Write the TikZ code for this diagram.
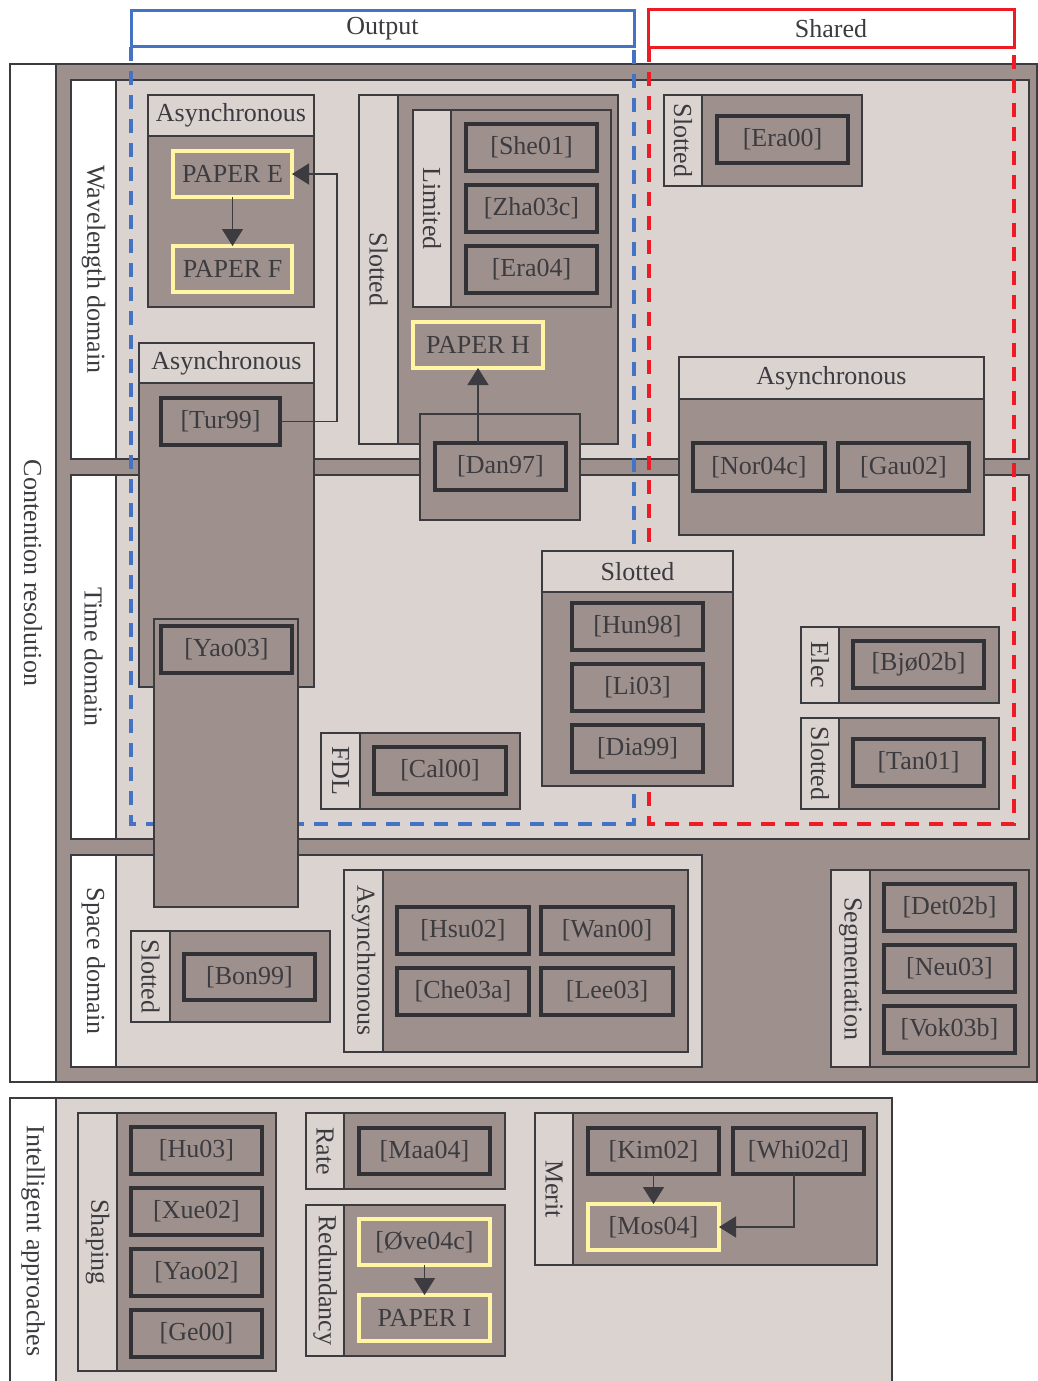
\documentclass[tikz,border=0pt]{standalone}
\usepackage{fontspec}
\setmainfont{Liberation Serif}
\usetikzlibrary{arrows.meta}

\definecolor{darkfill}{RGB}{158,145,141}
\definecolor{lightfill}{RGB}{219,211,208}
\definecolor{inkc}{RGB}{60,59,64}
\definecolor{refedge}{RGB}{50,50,54}
\definecolor{paperyellow}{RGB}{255,245,165}
\definecolor{outblue}{RGB}{68,114,196}
\definecolor{sharedred}{RGB}{237,28,36}

\tikzset{
  every node/.style={font=\fontsize{26}{30}\selectfont, text=inkc},
  frame/.style={draw=inkc, line width=1.5pt, inner sep=0pt, outer sep=0pt},
  whitecol/.style={frame, fill=white},
  lightbox/.style={frame, fill=lightfill},
  darkbox/.style={frame, fill=darkfill},
  refbox/.style={draw=refedge, line width=4pt, fill=darkfill, inner sep=0pt, outer sep=0pt},
  paperbox/.style={draw=paperyellow, line width=3.5pt, fill=darkfill, inner sep=0pt, outer sep=0pt},
  zone/.style={inner sep=0pt, outer sep=0pt},
  outline/.style={line width=3.5pt, dash pattern=on 14pt off 10pt},
  outhead/.style={draw=outblue, line width=3pt, fill=white, inner sep=0pt, outer sep=0pt},
  sharedhead/.style={draw=sharedred, line width=3pt, fill=white, inner sep=0pt, outer sep=0pt},
  link/.style={draw=inkc, line width=1.5pt, -{Triangle[length=17pt,width=21pt]}},
}

% \rbox{style}{name}{x1}{y1}{x2}{y2}{text}: box given by its corners
\newcommand\rbox[7]{%
  \pgfmathsetmacro\bxw{#5-#3}%
  \pgfmathsetmacro\bxh{#6-#4}%
  \node[#1, anchor=north west, minimum width=\bxw pt, minimum height=\bxh pt] (#2) at (#3,#4) {#7};}
\newcommand\vtext[1]{\rotatebox{-90}{#1}}

\begin{document}
\begin{tikzpicture}[x=1pt, y=-1pt]
\useasboundingbox (0,0) rectangle (1038,1381);

% contention resolution frame
\rbox{whitecol}{crlab}{10}{64}{56}{1082}{\vtext{Contention resolution}}
\rbox{darkbox}{crbody}{56}{64}{1037}{1082}{}

% domains
\rbox{whitecol}{wdlab}{71}{80}{116}{459}{\vtext{Wavelength domain}}
\rbox{lightbox}{wdbody}{116}{80}{1029}{459}{}
\rbox{whitecol}{tdlab}{71}{475}{116}{839}{\vtext{Time domain}}
\rbox{lightbox}{tdbody}{116}{475}{1029}{839}{}
\rbox{whitecol}{sdlab}{71}{855}{116}{1067}{\vtext{Space domain}}
\rbox{lightbox}{sdbody}{116}{855}{702}{1067}{}

% output / shared regions (open at the top, closed by the headings)
\rbox{zone}{outarea}{131}{47}{634}{824}{}
\rbox{zone}{sharedarea}{649}{48}{1014}{824}{}
\draw[outline, outblue] (outarea.north west) -- (outarea.south west) -- (outarea.south east) -- (outarea.north east);
\draw[outline, sharedred] (sharedarea.north west) -- (sharedarea.south west) -- (sharedarea.south east) -- (sharedarea.north east);

% wavelength domain: asynchronous (top)
\rbox{lightbox}{wahead}{148}{95}{314}{136}{Asynchronous}
\rbox{darkbox}{wabody}{148}{136}{314}{307}{}
\rbox{paperbox}{paperE}{173}{151}{292}{197}{PAPER E}
\rbox{paperbox}{paperF}{173}{246}{292}{292}{PAPER F}

% wavelength domain: slotted with limited
\rbox{lightbox}{wslab}{359}{95}{398}{444}{\vtext{Slotted}}
\rbox{darkbox}{wsbody}{398}{95}{618}{444}{}
\rbox{lightbox}{limlab}{413}{110}{451}{307}{\vtext{Limited}}
\rbox{darkbox}{limbody}{451}{110}{611}{307}{}
\rbox{refbox}{she}{466}{124}{597}{171}{[She01]}
\rbox{refbox}{zha}{466}{185}{597}{232}{[Zha03c]}
\rbox{refbox}{erafour}{466}{246}{597}{293}{[Era04]}
\rbox{paperbox}{paperH}{413}{322}{543}{368}{PAPER H}

% asynchronous spanning wavelength and time
\rbox{lightbox}{tahead}{139}{343}{314}{383}{Asynchronous}
\rbox{darkbox}{tabody}{139}{383}{314}{687}{}
\rbox{refbox}{tur}{161}{398}{280}{445}{[Tur99]}
\rbox{darkbox}{yaobody}{154}{619}{298}{907}{}
\rbox{refbox}{yaothree}{161}{626}{292}{673}{[Yao03]}

% Dan97 spanning wavelength and time
\rbox{darkbox}{danbody}{420}{414}{580}{520}{}
\rbox{refbox}{dan}{435}{443}{566}{490}{[Dan97]}

% shared wavelength: slotted
\rbox{lightbox}{seralab}{664}{95}{702}{186}{\vtext{Slotted}}
\rbox{darkbox}{serabody}{702}{95}{862}{186}{}
\rbox{refbox}{erazero}{717}{116}{848}{163}{[Era00]}

% shared asynchronous spanning wavelength and time
\rbox{lightbox}{rahead}{679}{357}{984}{399}{Asynchronous}
\rbox{darkbox}{rabody}{679}{399}{984}{535}{}
\rbox{refbox}{nor}{693}{443}{825}{491}{[Nor04c]}
\rbox{refbox}{gau}{838}{443}{969}{491}{[Gau02]}

% time domain: slotted
\rbox{lightbox}{tshead}{542}{551}{733}{592}{Slotted}
\rbox{darkbox}{tsbody}{542}{592}{733}{786}{}
\rbox{refbox}{hun}{572}{603}{703}{650}{[Hun98]}
\rbox{refbox}{li}{572}{664}{703}{711}{[Li03]}
\rbox{refbox}{dia}{572}{725}{703}{772}{[Dia99]}

% time domain: elec / slotted
\rbox{lightbox}{eleclab}{801}{627}{839}{703}{\vtext{Elec}}
\rbox{darkbox}{elecbody}{839}{627}{999}{703}{}
\rbox{refbox}{bjo}{853}{641}{984}{688}{[Bjø02b]}
\rbox{lightbox}{tslab}{801}{718}{839}{809}{\vtext{Slotted}}
\rbox{darkbox}{tsrbody}{839}{718}{999}{809}{}
\rbox{refbox}{tan}{853}{739}{984}{786}{[Tan01]}

% time domain: FDL
\rbox{lightbox}{fdllab}{321}{733}{360}{809}{\vtext{FDL}}
\rbox{darkbox}{fdlbody}{360}{733}{520}{809}{}
\rbox{refbox}{cal}{374}{747}{506}{794}{[Cal00]}

% space domain
\rbox{lightbox}{sslab}{131}{931}{170}{1022}{\vtext{Slotted}}
\rbox{darkbox}{ssbody}{170}{931}{330}{1022}{}
\rbox{refbox}{bon}{184}{954}{315}{1000}{[Bon99]}
\rbox{lightbox}{salab}{344}{870}{383}{1052}{\vtext{Asynchronous}}
\rbox{darkbox}{sabody}{383}{870}{688}{1052}{}
\rbox{refbox}{hsu}{397}{907}{529}{954}{[Hsu02]}
\rbox{refbox}{wan}{541}{907}{673}{954}{[Wan00]}
\rbox{refbox}{che}{397}{968}{529}{1015}{[Che03a]}
\rbox{refbox}{lee}{541}{968}{673}{1015}{[Lee03]}
\rbox{lightbox}{seglab}{831}{870}{870}{1067}{\vtext{Segmentation}}
\rbox{darkbox}{segbody}{870}{870}{1029}{1067}{}
\rbox{refbox}{det}{884}{884}{1015}{931}{[Det02b]}
\rbox{refbox}{neu}{884}{945}{1015}{992}{[Neu03]}
\rbox{refbox}{vok}{884}{1006}{1015}{1053}{[Vok03b]}

% intelligent approaches
\rbox{whitecol}{ialab}{10}{1098}{56}{1384}{\vtext{Intelligent approaches}}
\rbox{lightbox}{iabody}{56}{1098}{892}{1384}{}
\rbox{lightbox}{shlab}{78}{1113}{117}{1371}{\vtext{Shaping}}
\rbox{darkbox}{shbody}{117}{1113}{276}{1371}{}
\rbox{refbox}{hu}{131}{1127}{262}{1174}{[Hu03]}
\rbox{refbox}{xue}{131}{1188}{262}{1235}{[Xue02]}
\rbox{refbox}{yaotwo}{131}{1249}{262}{1296}{[Yao02]}
\rbox{refbox}{ge}{131}{1310}{262}{1357}{[Ge00]}
\rbox{lightbox}{ratelab}{306}{1113}{344}{1189}{\vtext{Rate}}
\rbox{darkbox}{ratebody}{344}{1113}{505}{1189}{}
\rbox{refbox}{maa}{359}{1128}{490}{1174}{[Maa04]}
\rbox{lightbox}{redlab}{306}{1205}{344}{1356}{\vtext{Redundancy}}
\rbox{darkbox}{redbody}{344}{1205}{505}{1356}{}
\rbox{paperbox}{ove}{359}{1219}{490}{1265}{[Øve04c]}
\rbox{paperbox}{paperI}{359}{1295}{490}{1341}{PAPER I}
\rbox{lightbox}{meritlab}{535}{1113}{573}{1265}{\vtext{Merit}}
\rbox{darkbox}{meritbody}{573}{1113}{877}{1265}{}
\rbox{refbox}{kim}{588}{1128}{719}{1174}{[Kim02]}
\rbox{refbox}{whi}{733}{1128}{864}{1174}{[Whi02d]}
\rbox{paperbox}{mos}{588}{1204}{719}{1250}{[Mos04]}

% region headings
\rbox{outhead}{outtitle}{131}{11}{634}{47}{Output}
\rbox{sharedhead}{sharedtitle}{648}{10}{1014}{48}{Shared}

% connectors
\coordinate (turbend) at (337,174);
\draw[link] (paperE.south) -- (paperF.north);
\draw[link] (tur.east) -| (turbend |- paperE.east) -- (paperE.east);
\draw[link] (paperH.south |- dan.north) -- (paperH.south);
\draw[link] (ove.south) -- (paperI.north);
\draw[link] (kim.south) -- (mos.north);
\coordinate (whidrop) at (794,1174);
\draw[link] (whidrop) |- (mos.east);
\end{tikzpicture}
\end{document}
